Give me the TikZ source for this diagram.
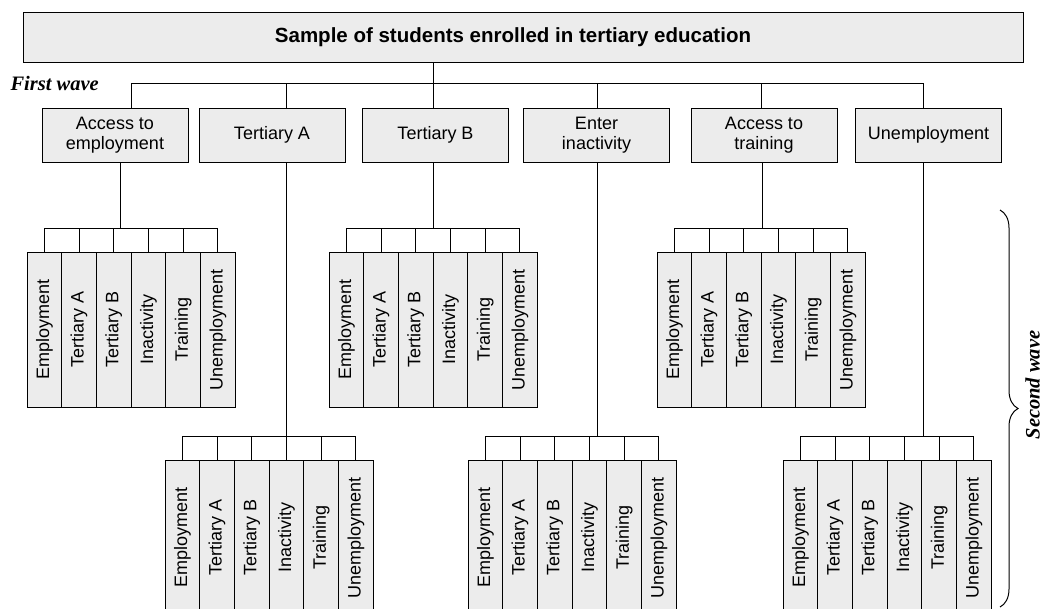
\documentclass[tikz,border=0pt]{standalone}
\usepackage{fontspec}
\setmainfont{Liberation Serif}
\setsansfont{Liberation Sans}
\usetikzlibrary{decorations.pathreplacing}

\begin{document}
\begin{tikzpicture}[x=1pt, y=-1pt, line width=1pt,
  box/.style={draw, fill=gray!15, inner sep=0pt, align=center, minimum width=146, minimum height=54, font=\sffamily\fontsize{18}{20}\selectfont},
  leaf/.style={draw, fill=gray!15, inner sep=0pt, rotate=90, minimum width=155, minimum height=34.7, font=\sffamily\fontsize{18}{20}\selectfont},
  wave/.style={inner sep=0pt, font=\rmfamily\bfseries\itshape\fontsize{20.5}{22}\selectfont}]

  \useasboundingbox (0,0) rectangle (1043,608);

  % top of the tree
  \node[box, minimum width=1000, minimum height=50] (sample) at (523,37) {};
  \node[inner sep=0pt, font=\sffamily\bfseries\fontsize{20.5}{22}\selectfont] (sample-text) at (513,37) {Sample of students enrolled in tertiary education};
  \node[wave, anchor=west] (first) at (10,83) {First wave};

  % first wave
  \node[box] (acc) at (115,135) {Access to\\employment};
  \node[box] (tA) at (272,135) {Tertiary A};
  \node[box] (tB) at (435.5,135) {Tertiary B};
  \node[box] (inact) at (596.5,135) {Enter\\inactivity};
  \node[box] (train) at (764,135) {Access to\\training};
  \node[box] (unemp) at (928.5,135) {Unemployment};

  % joints on the first line
  \coordinate (hub) at (433,83);
  \coordinate (acc-in) at (131,83);
  \coordinate (tA-in) at (286,83);
  \coordinate (inact-in) at (597,83);
  \coordinate (train-in) at (761,83);
  \coordinate (unemp-in) at (923,83);

  % arcs of the first wave
  \draw (hub |- sample.south) -- (hub);
  \draw (acc-in) -- (unemp-in);
  \draw (acc-in) -- (acc-in |- acc.north);
  \draw (tA-in) -- (tA-in |- tA.north);
  \draw (hub) -- (hub |- tB.north);
  \draw (inact-in) -- (inact-in |- inact.north);
  \draw (train-in) -- (train-in |- train.north);
  \draw (unemp-in) -- (unemp-in |- unemp.north);

  % second wave, one group below each parent
  \foreach \grp/\gx/\gl/\gt in {acc/120/27/252, tB/433/329/252, train/762/657/252, tA/286/165/460, inact/597/468/460, unemp/923/783/460}{
    \coordinate (\grp-bar) at (\gx,\gt-24);
    \foreach \name [count=\i] in {Employment, Tertiary A, Tertiary B, Inactivity, Training, Unemployment}
      \node[leaf] (\grp-\i) at (\gl+34.7*\i-17.35, \gt+77.5) {\name};
    \draw (\grp-bar |- \grp.south) -- (\grp-bar);
    \draw (\grp-1.east) |- (\grp-6.east |- \grp-bar) -- (\grp-6.east);
    \foreach \i in {2,...,5}
      \draw (\grp-\i.east) -- (\grp-\i.east |- \grp-bar);
  }

  % brace
  \coordinate (br-top) at (1000,210);
  \coordinate (br-bot) at (1000,607);
  \draw[decorate, decoration={brace, amplitude=18pt}] (br-top) -- (br-bot);
  \node[wave, rotate=90, anchor=north] (second) at (1025,385) {Second wave};

\end{tikzpicture}
\end{document}
